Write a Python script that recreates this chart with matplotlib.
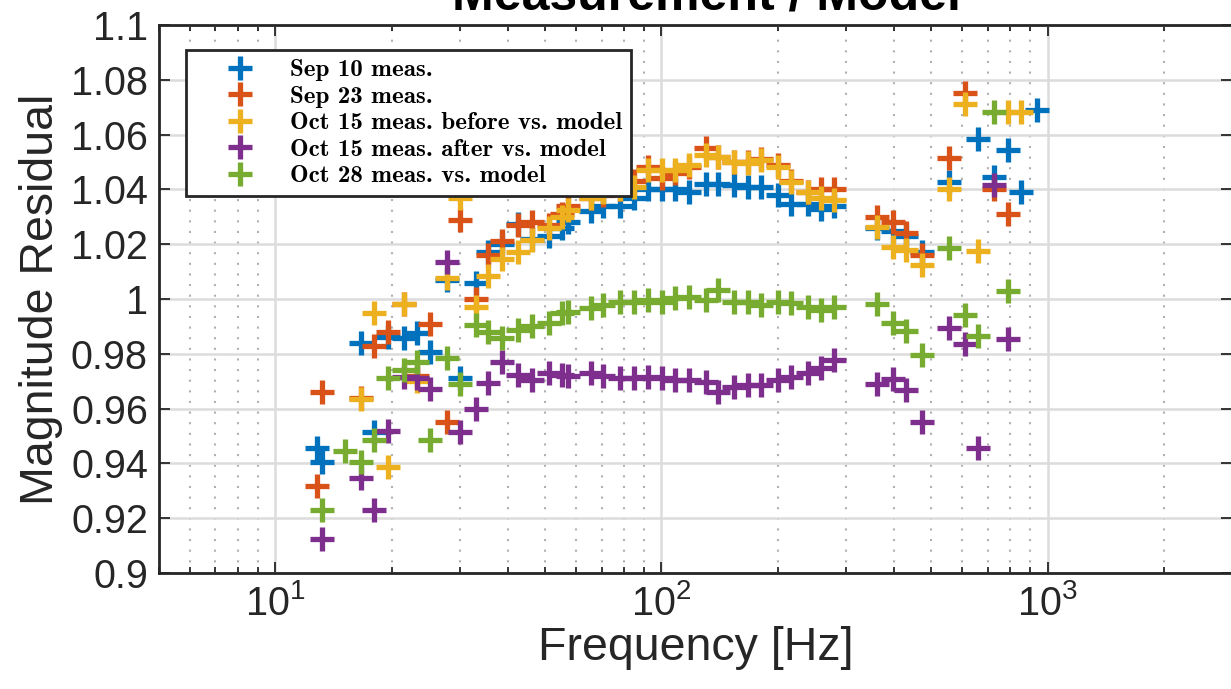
import numpy as np
import matplotlib
matplotlib.use("Agg")
import matplotlib.pyplot as plt
from matplotlib.ticker import LogLocator, NullFormatter, NullLocator
from matplotlib.font_manager import FontProperties

nan = np.nan

# ---------------- data ----------------
freq_hz = [12.8, 13.2, 15.2, 16.7, 18.0, 19.6, 21.5, 23.3, 25.2, 27.9, 30.1,
           33.0, 35.6, 38.7, 42.6, 46.3, 51.0, 55.1, 57.4, 65.5, 70.7, 78.3, 84.7, 92.0,
           100.6, 108.7, 117.5, 130.0, 139.7, 153.7, 167.1, 180.5, 199.8, 215.9, 238.9,
           258.2, 279.0,
           360.6, 396.7, 428.7, 471.6, 554.0, 609.5, 658.6, 724.7, 787.9, 851.3, 936.7]

sep10 = [0.9456, 0.9405, nan, 0.984, 0.9515, 0.986, 0.9857, 0.9876, 0.9807, 1.007, 0.971,
         1.006, 1.017, 1.020, 1.0275, 1.022, 1.023, 1.026, 1.028, 1.032, 1.034, 1.034, 1.037, 1.040,
         1.040, 1.040, 1.039, 1.042, 1.042, 1.0415, 1.041, 1.041, 1.038, 1.0345, 1.0345,
         1.033, 1.034,
         1.026, 1.025, 1.023, 1.017, 1.0428, nan, 1.0585, 1.0446, 1.0544, 1.039, 1.069]

sep23 = [0.9318, 0.966, nan, 0.964, 0.983, 0.988, 0.998, 0.972, 0.991, 0.955, 1.029,
         1.000, 1.016, 1.021, 1.027, 1.028, 1.027, 1.031, 1.034, 1.037, 1.038, 1.040, 1.043, 1.048,
         1.044, 1.046, 1.048, 1.055, 1.052, 1.050, 1.050, 1.051, 1.049, 1.043, 1.039,
         1.040, 1.040,
         1.030, 1.028, 1.024, 1.016, 1.0515, 1.0752, nan, 1.040, 1.031, nan, nan]

oct15_before = [nan, nan, nan, 0.9635, 0.995, 0.9387, 0.998, 0.970, nan, 1.0077, 1.037,
                0.997, 1.0085, 1.0146, 1.017, 1.0215, 1.026, 1.030, 1.0325, 1.037, 1.039, 1.040, 1.041, 1.047,
                1.047, 1.047, 1.049, 1.0525, 1.052, 1.050, 1.0496, 1.0507, 1.048, 1.0427, 1.039,
                1.037, 1.036,
                1.0263, 1.019, 1.018, 1.0124, 1.040, 1.0712, 1.0175, nan, 1.0683, 1.0683, nan]

oct15_after = [nan, 0.9124, nan, 0.9347, 0.923, 0.952, 0.9715, 0.971, 0.967, 1.0135, 0.9515,
               0.960, 0.9693, 0.977, 0.9723, 0.9705, 0.9729, 0.9723, 0.9719, 0.9729, 0.9719, 0.9711, 0.9711, 0.9717,
               0.9711, 0.9705, 0.9705, 0.9698, 0.9662, 0.968, 0.9686, 0.9686, 0.9705, 0.9717, 0.9729,
               0.9747, 0.9778,
               0.969, 0.9708, 0.9668, 0.955, 0.9895, 0.9836, 0.9456, 1.0416, 0.9854, nan, nan]

oct28 = [nan, 0.923, 0.9445, 0.9405, 0.9485, 0.971, 0.974, 0.977, 0.9485, 0.9785, 0.969,
         0.9905, 0.988, 0.9857, 0.9887, 0.990, 0.9911, 0.9948, 0.9954, 0.9966, 0.9978, 0.999, 0.999, 0.9996,
         0.999, 1.0003, 1.0009, 0.9996, 1.0033, 0.999, 0.999, 0.9978, 0.999, 0.9984, 0.9972,
         0.996, 0.9972,
         0.998, 0.9913, 0.9883, 0.9796, 1.0186, 0.9942, 0.9865, 1.0683, 1.003, nan, nan]

series_labels = ["Sep 10 meas.", "Sep 23 meas.", "Oct 15 meas. before vs. model",
                 "Oct 15 meas. after vs. model", "Oct 28 meas. vs. model"]
series_colors = ["#0072BD", "#D95319", "#EDB120", "#7E2F8E", "#77AC30"]

y_ticks = [0.9, 0.92, 0.94, 0.96, 0.98, 1.0, 1.02, 1.04, 1.06, 1.08, 1.1]
y_ticklabels = ["0.9", "0.92", "0.94", "0.96", "0.98", "1", "1.02", "1.04", "1.06", "1.08", "1.1"]

# ---------------- style ----------------
plt.rcParams['font.family'] = ['Liberation Sans', 'DejaVu Sans']
plt.rcParams['mathtext.fontset'] = 'custom'
plt.rcParams['mathtext.rm'] = 'Liberation Sans'
plt.rcParams['mathtext.it'] = 'Liberation Sans:italic'
plt.rcParams['mathtext.bf'] = 'Liberation Sans:bold'

W, H = 1231, 689
fig = plt.figure(figsize=(W / 100, H / 100), dpi=100)
ax = fig.add_axes([159 / W, 1 - 573 / H, (1232 - 159) / W, (573 - 25) / H])

all_series = [sep10, sep23, oct15_before, oct15_after, oct28]
for vals, lab, col in zip(all_series, series_labels, series_colors):
    ax.plot(freq_hz, vals, linestyle='none', marker='+', markersize=17.5,
            markeredgewidth=3.8, color=col, label=lab, zorder=3)

ax.set_xscale('log')
ax.set_xlim(5, 3000)
ax.set_ylim(0.9, 1.1)
ax.set_yticks(y_ticks)
ax.set_yticklabels(y_ticklabels)
ax.yaxis.set_minor_locator(NullLocator())
ax.xaxis.set_major_locator(LogLocator(base=10, numticks=10))
ax.xaxis.set_minor_locator(LogLocator(base=10, subs=np.arange(2, 10), numticks=20))
ax.xaxis.set_minor_formatter(NullFormatter())

ax.grid(True, which='major', color='#dcdcdc', linewidth=1.8, linestyle='-', zorder=0)
ax.grid(True, which='minor', axis='x', color='#b0b0b0', linewidth=1.5, linestyle=(0, (1, 4.1)), zorder=0)
ax.set_axisbelow(True)

ax.tick_params(which='both', direction='in', top=True, right=True, colors='#262626',
               labelsize=28.5, width=1.3)
ax.tick_params(which='major', length=8, pad=8)
ax.tick_params(axis='x', which='minor', length=4)
for sp in ax.spines.values():
    sp.set_linewidth(2.0)
    sp.set_color('#262626')

ax.set_xlabel('Frequency [Hz]', fontsize=33.5, color='#262626', labelpad=2)
ax.set_ylabel('Magnitude Residual', fontsize=33.5, color='#262626', labelpad=6)
ax.set_title('Measurement / Model', fontsize=36, fontweight='bold', color='black',
             pad=11, x=0.51)

leg = ax.legend(loc='upper left', bbox_to_anchor=(186 / W, 1 - 50 / H),
                bbox_transform=fig.transFigure, borderaxespad=0,
                prop=FontProperties(family='cmb10', size=18),
                frameon=True, fancybox=False, framealpha=1, edgecolor='#262626',
                borderpad=0.35, handlelength=3.6, handletextpad=0.2, labelspacing=0.16,
                numpoints=1)
leg.get_frame().set_linewidth(2.0)

fig.savefig('out.png', dpi=100)
